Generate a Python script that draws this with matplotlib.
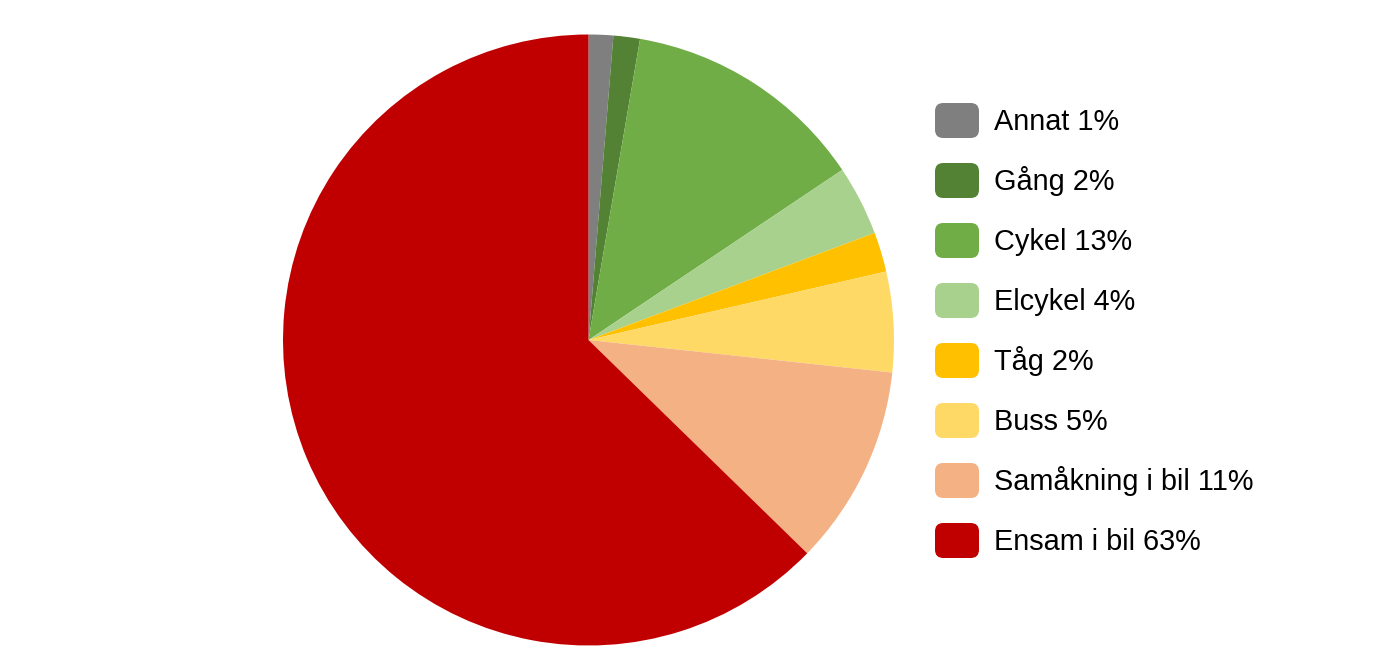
import matplotlib
matplotlib.use("Agg")
import matplotlib.pyplot as plt
from matplotlib.patches import FancyBboxPatch

labels = ["Annat 1%", "Gång 2%", "Cykel 13%", "Elcykel 4%", "Tåg 2%",
          "Buss 5%", "Samåkning i bil 11%", "Ensam i bil 63%"]
values = [1.3, 1.4, 12.9, 3.7, 2.1, 5.3, 10.6, 62.7]
colors = ["#7F7F7F", "#548235", "#70AD47", "#A9D18E", "#FFC000",
          "#FFD966", "#F4B183", "#C00000"]

W, H = 1378, 663
fig = plt.figure(figsize=(W / 100, H / 100), dpi=100)
plt.rcParams['font.family'] = ['Liberation Sans', 'DejaVu Sans']

cx, cy, r = 588.5, 340, 305.5
ax = fig.add_axes([(cx - r) / W, (H - cy - r) / H, 2 * r / W, 2 * r / H])
ax.pie(values, colors=colors, startangle=90, counterclock=False,
       wedgeprops=dict(linewidth=0), radius=1)
ax.set_xlim(-1, 1)
ax.set_ylim(-1, 1)
ax.set_aspect('equal')
ax.axis('off')

# legend
x0, bw, bh = 935, 44, 35
y_first, step = 120.5, 60
for i, (lab, col) in enumerate(zip(labels, colors)):
    yc = y_first + i * step
    box = FancyBboxPatch((x0 / W, (H - yc - bh / 2) / H), bw / W, bh / H,
                         boxstyle="round,pad=0,rounding_size=0.006",
                         transform=fig.transFigure, facecolor=col,
                         edgecolor='none', mutation_aspect=W / H)
    fig.patches.append(box)
    fig.text(994 / W, (H - yc - 9) / H, lab, fontsize=20.8, va='baseline',
             ha='left', color='black')

fig.savefig("out.png", dpi=100, facecolor='white')
